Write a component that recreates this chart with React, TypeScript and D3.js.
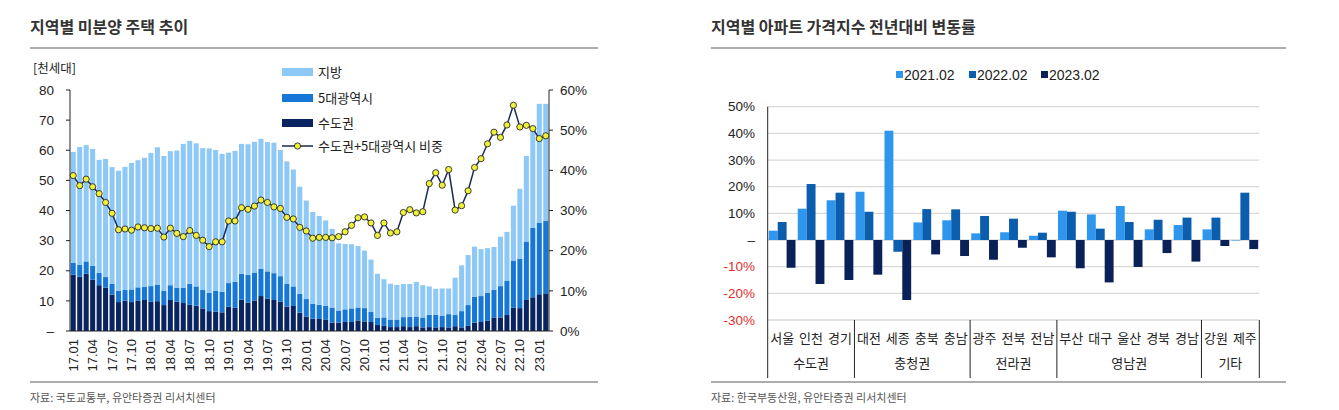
import React from "react";
import * as d3 from "d3";

// ---------- Left chart data: 지역별 미분양 주택 추이 (천세대) ----------
const months = [
  "17.01","17.02","17.03","17.04","17.05","17.06","17.07","17.08","17.09","17.10","17.11","17.12",
  "18.01","18.02","18.03","18.04","18.05","18.06","18.07","18.08","18.09","18.10","18.11","18.12",
  "19.01","19.02","19.03","19.04","19.05","19.06","19.07","19.08","19.09","19.10","19.11","19.12",
  "20.01","20.02","20.03","20.04","20.05","20.06","20.07","20.08","20.09","20.10","20.11","20.12",
  "21.01","21.02","21.03","21.04","21.05","21.06","21.07","21.08","21.09","21.10","21.11","21.12",
  "22.01","22.02","22.03","22.04","22.05","22.06","22.07","22.08","22.09","22.10","22.11","22.12",
  "23.01","23.02",
];
const monthTickLabels = [
  "17.01","17.04","17.07","17.10","18.01","18.04","18.07","18.10","19.01","19.04","19.07","19.10",
  "20.01","20.04","20.07","20.10","21.01","21.04","21.07","21.10","22.01","22.04","22.07","22.10","23.01",
];
// 수도권
const capital = [
  18.7,18.0,19.0,17.0,15.2,14.4,12.1,9.6,10.1,9.6,10.0,10.3,
  9.7,9.9,8.6,10.3,9.7,9.3,8.7,8.4,7.5,6.6,6.4,6.2,
  8.1,7.7,10.4,9.4,10.1,11.6,10.7,10.3,9.7,8.1,8.3,6.1,
  4.8,4.1,4.0,3.7,2.8,2.8,3.0,3.0,3.5,3.2,3.0,2.0,
  1.7,1.3,1.3,1.6,1.3,1.6,1.2,1.3,1.2,1.3,1.2,1.6,
  1.2,1.7,2.8,3.0,3.4,4.5,4.5,5.3,7.7,7.6,10.3,11.2,
  12.2,12.5,
];
// 5대광역시
const metro = [
  4.0,3.9,4.1,4.6,4.1,3.5,3.5,3.7,3.5,4.2,4.5,4.3,
  5.2,5.5,4.8,4.9,4.7,5.1,7.0,6.4,6.1,6.1,7.0,6.8,
  7.8,8.6,8.6,9.2,9.3,9.1,9.1,8.9,8.5,7.5,6.5,6.2,
  5.8,4.9,4.7,4.7,5.0,4.0,4.2,4.5,4.3,4.4,3.3,2.4,
  2.8,2.5,2.5,3.0,3.4,3.2,3.3,4.1,4.2,3.8,4.4,3.7,
  5.4,6.9,8.6,8.6,9.3,9.2,10.4,11.3,15.7,16.4,19.4,23.0,
  23.8,24.0,
];
// 지방
const local = [
  36.7,39.2,38.6,38.8,37.5,39.2,38.8,39.9,40.9,42.0,42.2,42.9,
  44.2,45.6,44.7,44.5,45.5,47.7,47.4,47.5,47.1,47.9,46.7,45.8,
  43.3,43.5,43.1,43.4,43.4,43.1,42.9,43.3,41.9,40.7,38.8,35.6,
  32.7,30.5,29.5,28.3,26.1,22.3,21.7,21.3,20.4,19.1,17.4,14.6,
  12.7,11.9,11.5,11.0,10.9,11.5,10.7,9.4,8.6,9.0,8.5,12.4,
  15.2,16.6,16.6,15.6,14.8,14.2,16.4,16.3,18.2,23.2,28.4,33.3,
  39.4,38.9,
];
// 수도권+5대광역시 비중 (%)
const share = [
  38.7,36.2,37.8,35.9,34.2,32.0,29.3,25.2,25.4,25.1,25.9,25.7,
  25.5,25.6,23.4,25.6,24.3,23.5,25.0,23.8,22.6,21.0,22.2,22.2,
  27.4,27.4,30.7,30.3,31.1,32.6,32.0,30.9,30.5,28.3,27.9,25.8,
  24.9,23.1,23.3,23.3,23.2,23.5,24.7,26.3,28.2,28.4,26.9,23.8,
  26.9,24.4,24.7,29.5,30.2,29.4,29.7,36.7,39.4,36.3,40.2,30.1,
  31.2,34.9,40.7,42.9,46.6,49.5,48.2,51.3,56.2,50.8,51.2,50.4,
  47.9,48.6,
];
const leftTicks = [0, 10, 20, 30, 40, 50, 60, 70, 80];
const rightTicks = [0, 10, 20, 30, 40, 50, 60];

// ---------- Right chart data: 지역별 아파트 가격지수 전년대비 변동률 (%) ----------
const regions = ["서울","인천","경기","대전","세종","충북","충남","광주","전북","전남","부산","대구","울산","경북","경남","강원","제주"];
const groupNames = ["수도권", "충청권", "전라권", "영남권", "기타"];
const groupSizes = [3, 4, 3, 5, 2];
const seriesNames = ["2021.02", "2022.02", "2023.02"];
const v2021 = [3.5, 11.75, 14.9, 18.1, 41.0, 6.6, 7.4, 2.5, 2.9, 1.6, 11.0, 9.6, 12.75, 4.0, 5.6, 4.0, -0.2];
const v2022 = [6.75, 21.0, 17.75, 10.6, -4.4, 11.6, 11.5, 9.0, 8.0, 2.75, 10.6, 4.25, 6.75, 7.6, 8.4, 8.4, 17.75];
const v2023 = [-10.4, -16.5, -15.0, -13.0, -22.5, -5.4, -6.0, -7.4, -2.9, -6.5, -10.6, -15.9, -10.1, -4.9, -8.1, -2.25, -3.4];
const pctTicks = [-30, -20, -10, 0, 10, 20, 30, 40, 50];

const FONT = "'Liberation Sans', Arial, 'Noto Sans CJK KR', sans-serif";
const KFONT = "'Noto Sans CJK KR', 'Liberation Sans', sans-serif";

const C_LOCAL = "#8DC8F6";
const C_METRO = "#1677D6";
const C_CAP = "#0A2462";
const C_LINE = "#1B2A50";
const C_MARK = "#EEF03A";
const S_COLORS = ["#2F96EE", "#0B5DAD", "#0A2158"];

function LeftChart() {
  const x = d3.scaleBand<string>().domain(months).range([70, 549]).paddingInner(0.22).paddingOuter(0.11);
  const yL = d3.scaleLinear().domain([0, 80]).range([331, 90]);
  const yR = d3.scaleLinear().domain([0, 60]).range([331, 90]);
  const table = months.map((m, i) => ({ m, cap: capital[i], metro: metro[i], local: local[i] }));
  const stack = d3.stack<any>().keys(["cap", "metro", "local"])(table);
  const colors: Record<string, string> = { cap: C_CAP, metro: C_METRO, local: C_LOCAL };
  const cx = (m: string) => (x(m) as number) + x.bandwidth() / 2;
  const line = d3.line<number>().x((_, i) => cx(months[i])).y((v) => yR(v));
  return (
    <g fontFamily={FONT}>
      <text x={30} y={33} fontFamily={KFONT} fontSize={16} fontWeight={700} fill="#333">지역별 미분양 주택 추이</text>
      <line x1={30} x2={598} y1={48} y2={48} stroke="#ADADAD" strokeWidth={2} />
      <text x={33} y={73} fontFamily={KFONT} fontSize={12.5} fill="#222">[천세대]</text>
      {stack.map((s) => (
        <g key={s.key} fill={colors[s.key]}>
          {s.map((d, i) => (
            <rect key={i} x={x(months[i])} width={x.bandwidth()} y={yL(d[1])} height={yL(d[0]) - yL(d[1])} />
          ))}
        </g>
      ))}
      {/* axes */}
      <line x1={70} x2={70} y1={90} y2={331} stroke="#222" />
      <line x1={549} x2={549} y1={90} y2={331} stroke="#222" />
      <line x1={70} x2={549} y1={331} y2={331} stroke="#222" />
      {leftTicks.map((t) => (
        <g key={t}>
          <line x1={66} x2={70} y1={yL(t)} y2={yL(t)} stroke="#222" />
          <text x={54} y={yL(t)} dy="0.35em" textAnchor="end" fontSize={13.5} fill="#222">{t === 0 ? "–" : t}</text>
        </g>
      ))}
      {rightTicks.map((t) => (
        <g key={t}>
          <line x1={549} x2={553} y1={yR(t)} y2={yR(t)} stroke="#222" />
          <text x={560} y={yR(t)} dy="0.35em" fontSize={13.5} fill="#222">{t}%</text>
        </g>
      ))}
      {monthTickLabels.map((m) => (
        <text key={m} transform={`translate(${cx(m)},339) rotate(-90)`} textAnchor="end" dy="0.35em" fontSize={13} fill="#222">{m}</text>
      ))}
      <path d={line(share) as string} fill="none" stroke={C_LINE} strokeWidth={1.5} />
      {share.map((v, i) => (
        <circle key={i} cx={cx(months[i])} cy={yR(v)} r={3.1} fill={C_MARK} stroke="#2a2a2a" strokeWidth={0.9} />
      ))}
      {/* legend */}
      <g fontFamily={KFONT} fontSize={13} fill="#222">
        <rect x={282} y={68} width={31} height={8} fill={C_LOCAL} />
        <text x={318} y={72} dy="0.35em">지방</text>
        <rect x={282} y={94} width={31} height={8} fill={C_METRO} />
        <text x={318} y={98} dy="0.35em">5대광역시</text>
        <rect x={282} y={119} width={31} height={8} fill={C_CAP} />
        <text x={318} y={123} dy="0.35em">수도권</text>
        <line x1={282} x2={313} y1={146} y2={146} stroke={C_LINE} strokeWidth={1.5} />
        <circle cx={297.5} cy={146} r={3.1} fill={C_MARK} stroke="#2a2a2a" strokeWidth={0.9} />
        <text x={318} y={146} dy="0.35em">수도권+5대광역시 비중</text>
      </g>
      <line x1={30} x2={598} y1={382} y2={382} stroke="#ADADAD" strokeWidth={2} />
      <text x={30} y={402} fontFamily={KFONT} fontSize={11} fill="#555">자료: 국토교통부, 유안타증권 리서치센터</text>
    </g>
  );
}

function RightChart() {
  const x0 = d3.scaleBand<string>().domain(regions).range([767.7, 1259.3]);
  const x1 = d3.scaleBand<string>().domain(seriesNames).range([0, x0.bandwidth()]).paddingOuter(0.125);
  const y = d3.scaleLinear().domain([-30, 50]).range([320, 106.7]);
  const values = [v2021, v2022, v2023];
  const bounds: number[] = [];
  let acc = 0;
  bounds.push(x0(regions[0]) as number);
  groupSizes.forEach((n) => {
    acc += n;
    bounds.push(acc < regions.length ? (x0(regions[acc]) as number) : (x0.range()[1] as number));
  });
  return (
    <g fontFamily={FONT}>
      <text x={711} y={33} fontFamily={KFONT} fontSize={16} fontWeight={700} fill="#333">지역별 아파트 가격지수 전년대비 변동률</text>
      <line x1={711} x2={1286} y1={48} y2={48} stroke="#ADADAD" strokeWidth={2} />
      {/* legend */}
      <g fontSize={14} fill="#222">
        {seriesNames.map((s, i) => {
          const lx = [896, 969, 1041][i];
          return (
            <g key={s}>
              <rect x={lx} y={71} width={7} height={7} fill={S_COLORS[i]} />
              <text x={lx + 8} y={75} dy="0.35em">{s}</text>
            </g>
          );
        })}
      </g>
      {pctTicks.map((t) => (
        <g key={t}>
          <line x1={767.7} x2={1259.3} y1={y(t)} y2={y(t)} stroke="#D9D9D9" strokeWidth={1.3} />
          <text x={755} y={y(t)} dy="0.35em" textAnchor="end" fontSize={13.5} fill={t < 0 ? "#E0302D" : "#222"}>
            {t === 0 ? "–" : `${t}%`}
          </text>
        </g>
      ))}
      {values.map((arr, si) => (
        <g key={si} fill={S_COLORS[si]}>
          {arr.map((v, i) => (
            <rect
              key={i}
              x={(x0(regions[i]) as number) + (x1(seriesNames[si]) as number)}
              width={x1.bandwidth()}
              y={y(Math.max(0, v))}
              height={Math.abs(y(v) - y(0))}
            />
          ))}
        </g>
      ))}
      <line x1={767.7} x2={767.7} y1={106.7} y2={378} stroke="#222" />
      {bounds.slice(1).map((b, i) => (
        <line key={i} x1={b} x2={b} y1={320} y2={378} stroke="#222" />
      ))}
      <g fontFamily={KFONT} fontSize={13} fill="#222" textAnchor="middle">
        {regions.map((r) => (
          <text key={r} x={(x0(r) as number) + x0.bandwidth() / 2} y={338} dy="0.35em">{r}</text>
        ))}
        {groupNames.map((g, i) => (
          <text key={g} x={(bounds[i] + bounds[i + 1]) / 2} y={363} dy="0.35em">{g}</text>
        ))}
      </g>
      <line x1={711} x2={1286} y1={382} y2={382} stroke="#ADADAD" strokeWidth={2} />
      <text x={711} y={402} fontFamily={KFONT} fontSize={11} fill="#555">자료: 한국부동산원, 유안타증권 리서치센터</text>
    </g>
  );
}

export default function App() {
  return (
    <svg width={1339} height={410} style={{ position: "absolute", left: 0, top: 0, background: "#fff" }}>
      <LeftChart />
      <RightChart />
    </svg>
  );
}
